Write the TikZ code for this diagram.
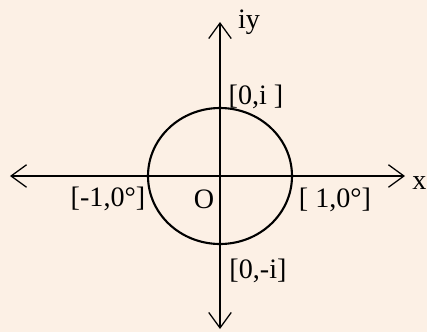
\documentclass[tikz,border=0pt]{standalone}
\usepackage{fontspec}
\setmainfont{Liberation Serif}
\usetikzlibrary{arrows.meta}
\definecolor{paper}{rgb}{0.99,0.94,0.90}
\tikzset{
  axis/.style={line width=0.9pt, -{Straight Barb[length=11pt,width=16pt,line width=0.9pt]}},
  lbl/.style={font=\fontsize{20}{24}\selectfont, inner sep=0pt}
}
\begin{document}
\begin{tikzpicture}[x=0.025cm, y=0.025cm]
        % Hintergrund
        \fill[paper] (-220,-156) rectangle (207,176);
        \useasboundingbox (-220,-156) rectangle (207,176);

        % Achsen
        \coordinate (O) at (0,0);
        \coordinate (xl) at (-210,0);
        \coordinate (xr) at (185,0);
        \coordinate (yt) at (0,154);
        \coordinate (yb) at (0,-153);
        \draw[axis] (O) -- (xr);
        \draw[axis] (O) -- (xl);
        \draw[axis] (O) -- (yt);
        \draw[axis] (O) -- (yb);

        % Einheitskreis
        \draw[line width=1.5pt] (O) ellipse [x radius=72, y radius=68];

        % Beschriftungen
        \node[lbl] (iy) at (29,154) {iy};
        \node[lbl, anchor=west] (x) at (192,-7) {x};
        \node[lbl] (top) at (36,79) {[0,i ]};
        \node[lbl] (bot) at (38,-95) {[0,-i]};
        \node[lbl] (left) at (-112,-23) {[-1,0°]};
        \node[lbl] (right) at (115,-24) {[ 1,0°]};
        \node[lbl] (o) at (-16,-23) {O};
\end{tikzpicture}
\end{document}
